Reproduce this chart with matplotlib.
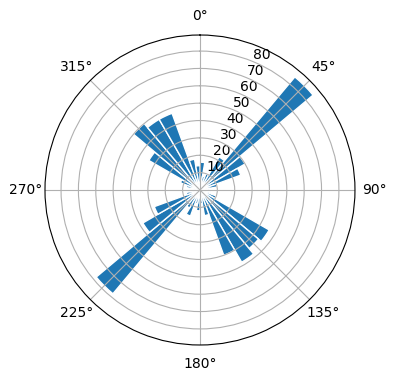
import matplotlib
import matplotlib.pyplot as plt
import numpy as np

matplotlib.use('Agg')

# direction bins (degrees, bin centres) and counts per bin
directions = [5, 15, 25, 35, 45, 55, 65, 75, 85, 95, 105, 115,
              125, 135, 145, 155, 165, 175, 185, 195, 205, 215, 225, 235,
              245, 255, 265, 275, 285, 295, 305, 315, 325, 335, 345, 355]
counts = [16, 8, 10, 22, 85, 30, 25, 10, 6, 5, 6, 10,
          46, 44, 48, 40, 15, 8, 12, 8, 16, 12, 78, 38,
          28, 8, 6, 5, 8, 12, 34, 50, 47, 47, 18, 14]
bin_width = 10

fig = plt.figure(figsize=(3.96, 3.80), dpi=100)
ax = fig.add_axes([0.1136, 0.0921, 0.7828, 0.8158], projection='polar')
ax.set_theta_zero_location('N')
ax.set_theta_direction(-1)

ax.bar(np.deg2rad(directions), counts, width=np.deg2rad(bin_width),
       color='C0', edgecolor='white', linewidth=1)

fig.savefig('out.png', dpi=100)
